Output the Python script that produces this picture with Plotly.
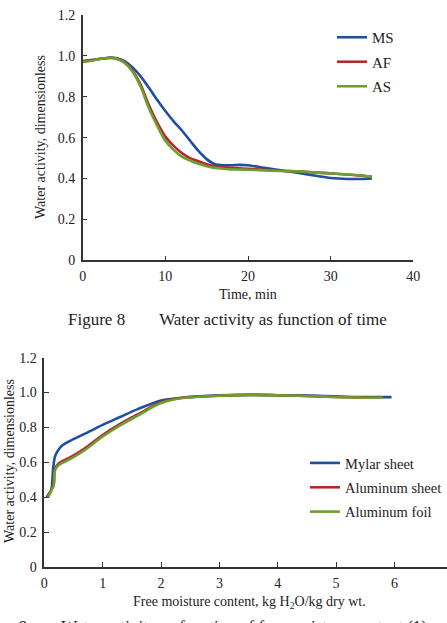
import plotly.graph_objects as go

W, H = 447, 623

# ---------- Figure 8 data ----------
time_min = [0, 1, 2, 3, 3.5, 4, 5, 6, 7, 8, 9, 10, 11, 12, 13, 14, 15, 16, 17, 18, 19, 20,
            22, 24, 26, 28, 30, 32, 34, 35]
aw_MS = [0.975, 0.98, 0.985, 0.99, 0.992, 0.99, 0.975, 0.945, 0.90, 0.845, 0.785, 0.73, 0.68,
         0.635, 0.585, 0.535, 0.495, 0.47, 0.465, 0.465, 0.467, 0.465, 0.452, 0.44, 0.428,
         0.415, 0.403, 0.398, 0.398, 0.400]
aw_AF = [0.972, 0.978, 0.985, 0.99, 0.99, 0.988, 0.97, 0.93, 0.86, 0.76, 0.675, 0.605, 0.56,
         0.525, 0.50, 0.485, 0.47, 0.46, 0.455, 0.452, 0.45, 0.448, 0.443, 0.438, 0.435, 0.43,
         0.425, 0.42, 0.413, 0.408]
aw_AS = [0.97, 0.976, 0.984, 0.99, 0.99, 0.987, 0.968, 0.925, 0.85, 0.745, 0.66, 0.585, 0.54,
         0.507, 0.488, 0.472, 0.46, 0.452, 0.448, 0.445, 0.444, 0.443, 0.44, 0.437, 0.435,
         0.43, 0.425, 0.42, 0.414, 0.408]

# ---------- Figure 9 data ----------
moist_mylar = [0.04, 0.08, 0.12, 0.15, 0.18, 0.22, 0.3, 0.45, 0.67, 1.0, 1.3, 1.6, 2.0, 2.4,
               3.0, 3.5, 4.0, 4.7, 5.3, 5.95]
aw_mylar = [0.40, 0.42, 0.44, 0.56, 0.63, 0.66, 0.695, 0.725, 0.76, 0.815, 0.86, 0.905, 0.955,
            0.972, 0.984, 0.987, 0.985, 0.982, 0.975, 0.974]
moist_alsheet = [0.06, 0.1, 0.13, 0.16, 0.18, 0.22, 0.3, 0.45, 0.67, 1.0, 1.3, 1.6, 2.0, 2.4,
                 3.0, 3.5, 4.0, 4.7, 5.3, 5.8]
aw_alsheet = [0.40, 0.43, 0.45, 0.47, 0.56, 0.585, 0.605, 0.63, 0.675, 0.757, 0.82, 0.875, 0.945,
              0.972, 0.982, 0.987, 0.985, 0.978, 0.972, 0.97]
moist_alfoil = [0.06, 0.1, 0.13, 0.16, 0.18, 0.22, 0.3, 0.45, 0.67, 1.0, 1.3, 1.6, 2.0, 2.4,
                3.0, 3.5, 4.0, 4.7, 5.3, 5.8]
aw_alfoil = [0.40, 0.425, 0.445, 0.465, 0.55, 0.575, 0.595, 0.62, 0.665, 0.748, 0.812, 0.868,
             0.94, 0.97, 0.982, 0.987, 0.985, 0.978, 0.972, 0.97]

y_ticks = [0, 0.2, 0.4, 0.6, 0.8, 1.0, 1.2]
y_ticktext = ["0", "0.2", "0.4", "0.6", "0.8", "1.0", "1.2"]
x1_ticks = [0, 10, 20, 30, 40]
x2_ticks = [0, 1, 2, 3, 4, 5, 6]

BLUE, RED, GREEN = "#1f4f9e", "#b3282c", "#6d9e2f"
FONT = "Liberation Serif"
TXT = "#222"
LW = 2.6

fig = go.Figure()
for name, y, c in [("MS", aw_MS, BLUE), ("AF", aw_AF, RED), ("AS", aw_AS, GREEN)]:
    fig.add_trace(go.Scatter(x=time_min, y=y, name=name, mode="lines",
                             line=dict(color=c, width=LW, shape="spline", smoothing=1.0),
                             xaxis="x", yaxis="y", legend="legend", legendgroup=name))
for name, x, y, c in [("Mylar sheet", moist_mylar, aw_mylar, BLUE),
                      ("Aluminum sheet", moist_alsheet, aw_alsheet, RED),
                      ("Aluminum foil", moist_alfoil, aw_alfoil, GREEN)]:
    fig.add_trace(go.Scatter(x=x, y=y, name=name, mode="lines",
                             line=dict(color=c, width=LW, shape="spline", smoothing=0.8),
                             xaxis="x2", yaxis="y2", legend="legend2", legendgroup=name))

def px_x(p):
    return p / W

def px_y(p):
    return 1 - p / H

axis_common = dict(showline=True, linecolor="#333", linewidth=1.5, ticks="inside",
                   ticklen=5, tickwidth=1.3, tickcolor="#333", showgrid=False, zeroline=False,
                   tickfont=dict(family=FONT, size=14, color=TXT), mirror=False,
                   automargin=False)

fig.update_layout(
    width=W, height=H, margin=dict(l=0, r=0, t=0, b=0, autoexpand=False),
    paper_bgcolor="white", plot_bgcolor="white",
    font=dict(family=FONT, color=TXT),
    xaxis=dict(domain=[px_x(82.7), px_x(413.3)], range=[0, 40], tickvals=x1_ticks,
               anchor="y", ticklabelstandoff=2, **axis_common),
    yaxis=dict(domain=[px_y(260.3), px_y(15)], range=[0, 1.2], tickvals=y_ticks,
               ticktext=y_ticktext, anchor="x", ticklabelstandoff=3, **axis_common),
    xaxis2=dict(domain=[px_x(44.3), 1.0], range=[0, 6.9], tickvals=x2_ticks,
                anchor="y2", ticklabelstandoff=2, **axis_common),
    yaxis2=dict(domain=[px_y(567), px_y(357.7)], range=[0, 1.2], tickvals=y_ticks,
                ticktext=y_ticktext, anchor="x2", ticklabelstandoff=3, **axis_common),
    legend=dict(x=px_x(332), y=px_y(21), xanchor="left", yanchor="top",
                font=dict(family=FONT, size=15, color=TXT), tracegroupgap=2,
                bgcolor="rgba(0,0,0,0)"),
    legend2=dict(x=px_x(305), y=px_y(447), xanchor="left", yanchor="top",
                 font=dict(family=FONT, size=14.5, color=TXT), tracegroupgap=2.5,
                 bgcolor="rgba(0,0,0,0)"),
)

ann = [
    dict(text="Water activity, dimensionless", x=px_x(40), y=px_y(137), textangle=-90),
    dict(text="Time, min", x=px_x(248), y=px_y(294)),
    dict(text="Water activity, dimensionless", x=px_x(9), y=px_y(461), textangle=-90),
    dict(text="Free moisture content, kg H<sub>2</sub>O/kg dry wt.", x=px_x(249), y=px_y(602)),
]
for a in ann:
    fig.add_annotation(xref="paper", yref="paper", showarrow=False,
                       xanchor="center", yanchor="middle",
                       font=dict(family=FONT, size=14, color=TXT), **a)

fig.add_annotation(xref="paper", yref="paper", showarrow=False, x=px_x(227), y=px_y(320),
                   xanchor="center", yanchor="middle",
                   text="Figure 8\u2003\u2003Water activity as function of time",
                   font=dict(family=FONT, size=17, color=TXT))
fig.add_annotation(xref="paper", yref="paper", showarrow=False, x=px_x(198), y=px_y(626),
                   xanchor="center", yanchor="middle",
                   text="Figure 9\u2003\u2003Water activity as function of free moisture content (1)",
                   font=dict(family=FONT, size=17, color=TXT))

fig.write_html("out.html")
